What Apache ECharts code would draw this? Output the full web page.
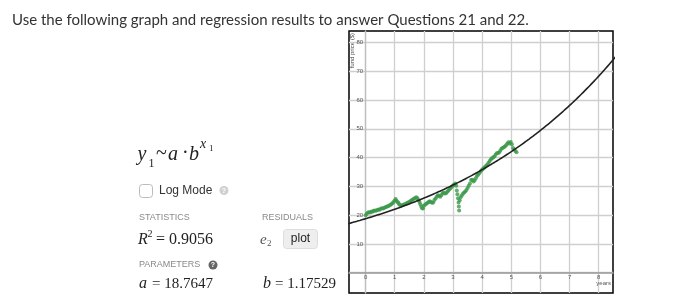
<!DOCTYPE html>
<html><head><meta charset="utf-8">
<script src="https://cdn.jsdelivr.net/npm/echarts@6/dist/echarts.min.js"></script>
<style>html,body{margin:0;padding:0;background:#fff}#c{width:695px;height:308px}</style>
</head><body><div id="c"></div>
<script>
// fund price data (years, $)
const years = [0.00,0.04,0.08,0.12,0.16,0.20,0.24,0.28,0.32,0.36,0.40,0.44,0.48,0.52,0.56,0.60,0.64,0.68,0.72,0.76,0.80,0.84,0.88,0.92,0.96,1.00,1.03,1.06,1.09,1.12,1.15,1.18,1.22,1.26,1.30,1.34,1.38,1.42,1.46,1.50,1.54,1.58,1.62,1.66,1.70,1.74,1.78,1.82,1.85,1.88,1.91,1.94,1.97,2.00,2.04,2.08,2.12,2.16,2.20,2.24,2.28,2.32,2.36,2.40,2.44,2.48,2.52,2.56,2.60,2.64,2.68,2.72,2.76,2.80,2.84,2.88,2.92,2.96,3.00,3.04,3.08,3.11,3.13,3.15,3.17,3.19,3.20,3.21,3.23,3.26,3.30,3.34,3.38,3.42,3.46,3.50,3.54,3.58,3.62,3.66,3.70,3.74,3.78,3.82,3.86,3.90,3.94,3.98,4.02,4.06,4.10,4.14,4.18,4.22,4.26,4.30,4.34,4.38,4.42,4.46,4.50,4.54,4.58,4.62,4.66,4.70,4.74,4.78,4.82,4.86,4.90,4.94,4.98,5.02,5.06,5.10,5.14,5.18];
const prices = [20.0,20.5,20.9,21.0,20.9,21.3,21.2,21.5,21.6,21.5,21.8,22.0,21.9,22.2,22.4,22.3,22.6,22.7,22.9,23.1,23.3,23.5,23.8,24.1,24.6,25.1,25.6,25.0,24.6,24.4,23.8,23.5,23.3,23.4,23.6,23.8,23.9,24.2,24.4,24.6,24.9,25.2,25.4,25.7,26.0,26.2,25.9,25.2,24.6,23.8,23.0,22.4,22.3,23.3,23.6,24.0,24.2,24.6,24.8,24.6,24.3,24.4,25.3,25.8,26.4,26.9,26.7,26.4,26.9,27.6,27.9,27.5,27.6,28.1,28.5,29.0,29.4,29.9,30.3,30.6,31.0,30.2,28.6,27.3,25.9,24.4,23.0,21.6,25.2,26.2,26.8,27.4,27.9,28.2,28.7,29.4,30.2,31.0,32.2,32.3,31.7,32.0,32.8,33.6,34.0,34.6,35.2,35.6,36.0,36.4,36.8,37.2,37.6,38.2,38.8,39.4,39.8,40.1,40.4,41.0,41.5,41.6,41.8,42.4,43.1,43.3,43.6,43.9,44.3,44.8,45.3,44.9,45.4,44.6,43.3,42.8,42.3,41.9];
// regression parameters
const paramA = 18.7647;
const paramB = 1.17529;
const rSquared = '0.9056';
// axis ticks
const xTicks = [0,1,2,3,4,5,6,7,8];
const yTicks = [0,10,20,30,40,50,60,70,80];
const yTickLabels = [10,20,30,40,50,60,70,80];
const xRange = [-0.57, 8.49];
const yRange = [-7.06, 84.0];

const scatterData = years.map((x,i)=>[x, prices[i]]);
const curve = [];
for (let i = 0; i <= 92; i++) { const x = -0.6 + i*0.1; curve.push([x, paramA*Math.pow(paramB, x)]); }

const G = {left:349, top:31, width:264, height:262};
const xAxisOffset = -G.height * (0 - yRange[0]) / (yRange[1] - yRange[0]);
const yAxisOffset = -G.width * (0 - xRange[0]) / (xRange[1] - xRange[0]);

const serif = 'Liberation Serif';
const sans = 'Liberation Sans';
function t(text, x, y, font, fill, align, va){ return {type:'text', x:x, y:y, silent:true, style:{text:text, font:font, fill:fill||'#222', align:align||'left', verticalAlign:va||'middle'}}; }

const graphics = [
  t('Use the following graph and regression results to answer Questions 21 and 22.', 12, 20, '15px Lato', '#333'),
  // formula
  t('y', 137.5, 155, 'italic 20px '+serif),
  t('1', 148.5, 163.5, '12px '+serif),
  t('~', 156, 154, '20px '+serif),
  t('a', 168, 155, 'italic 20px '+serif),
  t('·', 182, 154, '20px '+serif),
  t('b', 189, 155, 'italic 20px '+serif),
  t('x', 200, 144.5, 'italic 14px '+serif),
  t('1', 209, 148.5, '9px '+serif),
  // checkbox
  {type:'rect', shape:{x:139.5, y:184.5, width:13, height:13, r:3}, style:{fill:'#fff', stroke:'#bbb', lineWidth:1}},
  t('Log Mode', 159, 191, '12px '+sans, '#333'),
  {type:'circle', shape:{cx:224, cy:190.5, r:4.5}, style:{fill:'#d0d0d0'}},
  t('?', 224, 191, 'bold 7px '+sans, '#fff', 'center'),
  t('STATISTICS', 139, 218, '9px '+sans, '#8a8a8a'),
  t('RESIDUALS', 262, 218, '9px '+sans, '#8a8a8a'),
  t('R', 138, 240, 'italic 16px '+serif),
  t('2', 147.5, 234, '10px '+serif),
  t('= '+rSquared, 156, 240, '16px '+serif),
  t('e', 260, 240, 'italic 15px '+serif, '#555'),
  t('2', 267, 244, '9px '+serif, '#555'),
  {type:'rect', shape:{x:283.5, y:229.5, width:34, height:19, r:3}, style:{fill:'#eee', stroke:'#ddd', lineWidth:1}},
  t('plot', 300.5, 239, '12px '+sans, '#222', 'center'),
  t('PARAMETERS', 139, 265, '9px '+sans, '#8a8a8a'),
  {type:'circle', shape:{cx:213, cy:265, r:4.5}, style:{fill:'#666'}},
  t('?', 213, 265.5, 'bold 7px '+sans, '#fff', 'center'),
  t('a', 139, 284, 'italic 16px '+serif),
  t('= '+paramA, 152, 284, '15px '+serif),
  t('b', 263, 284, 'italic 16px '+serif),
  t('= '+paramB, 275, 284, '15px '+serif),
  // y axis name
  {type:'text', x:352, y:33, rotation:Math.PI/2, silent:true, style:{text:'fund price ($)', font:'6px '+sans, fill:'#444', align:'right', verticalAlign:'middle'}}
];

const chart = echarts.init(document.getElementById('c'), null, {renderer:'canvas'});
chart.setOption({
  animation:false,
  grid:{left:G.left, top:G.top, width:G.width, height:G.height, show:true, borderColor:'#000', borderWidth:1.5, backgroundColor:'transparent', containLabel:false},
  xAxis:{type:'value', min:xRange[0], max:xRange[1], position:'bottom', offset:xAxisOffset,
    axisLine:{onZero:false, lineStyle:{color:'#999', width:1.5}},
    axisTick:{show:false, customValues:xTicks},
    axisLabel:{customValues:xTicks, fontSize:6, color:'#555', margin:2, fontFamily:sans},
    splitLine:{show:true, lineStyle:{color:'#cfcfcf', width:1.3}},
    name:'years', nameLocation:'end', nameGap:-2,
    nameTextStyle:{fontSize:6, color:'#555', align:'right', verticalAlign:'top', padding:[8,0,0,0], fontFamily:sans}
  },
  yAxis:{type:'value', min:yRange[0], max:yRange[1], position:'left', offset:yAxisOffset,
    axisLine:{onZero:false, lineStyle:{color:'#bdbdbd', width:1.3}},
    axisTick:{show:false, customValues:yTicks},
    axisLabel:{customValues:yTickLabels, fontSize:6, color:'#555', margin:2.5, fontFamily:sans},
    splitLine:{show:true, lineStyle:{color:'#cfcfcf', width:1.3}}
  },
  graphic:graphics,
  series:[
    {type:'scatter', data:scatterData, symbol:'circle', symbolSize:4, itemStyle:{color:'#3c984a'}, z:3},
    {type:'line', data:curve, showSymbol:false, smooth:true, lineStyle:{color:'#222', width:1.6}, z:4}
  ]
});
</script></body></html>
